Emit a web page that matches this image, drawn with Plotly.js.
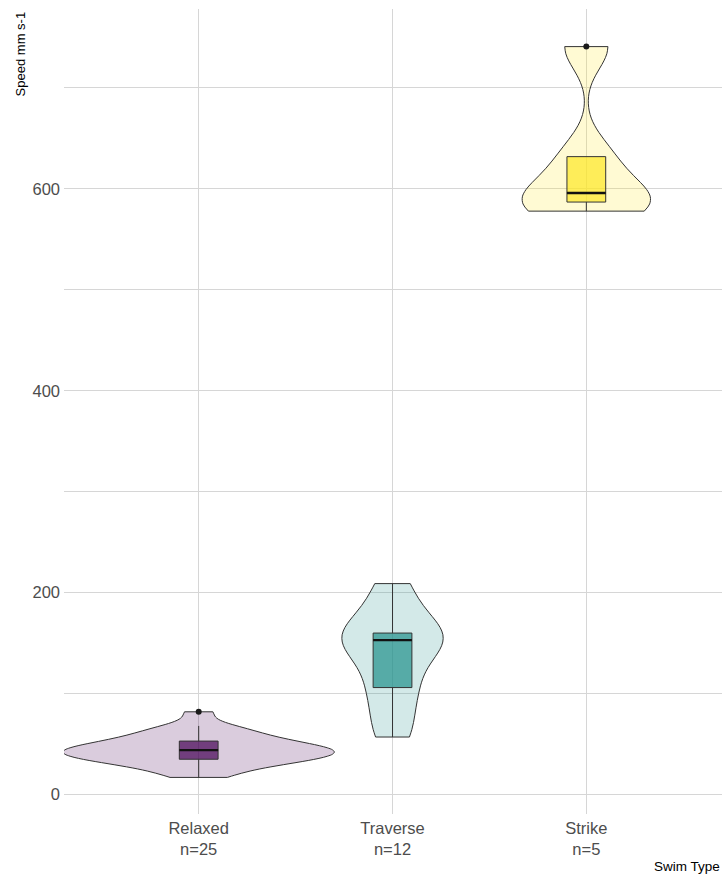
<!DOCTYPE html>
<html>
<head>
<meta charset="utf-8">
<script src="https://cdn.plot.ly/plotly-3.0.1.min.js"></script>
<style>
  html, body { margin: 0; padding: 0; background: #ffffff; }
  #chart { width: 722px; height: 878px; }
</style>
</head>
<body>
<div id="chart"></div>
<script>
// Swimming speed (mm s-1) by swim type
const categories = ['Relaxed', 'Traverse', 'Strike'];

const relaxedSpeeds = [17, 22, 27, 30, 32, 34, 35, 37, 38, 40, 41, 42, 44,
                       45, 46, 47, 49, 51, 53, 55, 58, 61, 65, 68, 82];
const traverseSpeeds = [57, 72, 103, 107, 133, 150, 156, 157, 159, 163, 192, 209];
const strikeSpeeds = [578, 587, 596, 632, 741];

const yTickValues = [0, 200, 400, 600];

// viridis end / middle colours, one per swim type
const groupColors = [[68, 1, 84], [33, 144, 140], [253, 231, 37]];
// violin widths (x units) so that equal areas are kept
const violinWidths = [1.40, 0.52, 0.66];

const series = [relaxedSpeeds, traverseSpeeds, strikeSpeeds];

// quantile, R type 7
function quantile(sorted, p) {
  const h = (sorted.length - 1) * p;
  const lo = Math.floor(h), hi = Math.ceil(h);
  return sorted[lo] + (h - lo) * (sorted[hi] - sorted[lo]);
}
function sd(arr) {
  const m = arr.reduce((a, b) => a + b, 0) / arr.length;
  return Math.sqrt(arr.reduce((a, b) => a + (b - m) * (b - m), 0) / (arr.length - 1));
}
// Silverman's rule as in R's bw.nrd0
function bwNrd0(sorted) {
  const iqr = quantile(sorted, 0.75) - quantile(sorted, 0.25);
  const lo = Math.min(sd(sorted), iqr / 1.34);
  return 0.9 * lo * Math.pow(sorted.length, -0.2);
}
function boxStats(values) {
  const s = values.slice().sort((a, b) => a - b);
  const q1 = quantile(s, 0.25), med = quantile(s, 0.5), q3 = quantile(s, 0.75);
  const iqr = q3 - q1;
  const inside = s.filter(v => v >= q1 - 1.5 * iqr && v <= q3 + 1.5 * iqr);
  const outliers = s.filter(v => v < q1 - 1.5 * iqr || v > q3 + 1.5 * iqr);
  return { s, q1, med, q3, lo: inside[0], hi: inside[inside.length - 1], outliers };
}

const rgba = (c, a) => `rgba(${c[0]},${c[1]},${c[2]},${a})`;
const outline = '#333333';
const traces = [];
const stats = series.map(boxStats);

series.forEach((vals, i) => {
  traces.push({
    type: 'violin',
    x0: i,
    y: vals,
    name: categories[i],
    width: violinWidths[i],
    scalemode: 'width',
    spanmode: 'hard',
    bandwidth: bwNrd0(stats[i].s),
    points: false,
    box: { visible: false },
    meanline: { visible: false },
    fillcolor: rgba(groupColors[i], 0.2),
    line: { color: outline, width: 1 },
    hoverinfo: 'skip'
  });
});

stats.forEach((st, i) => {
  traces.push({
    type: 'box',
    x: [i],
    q1: [st.q1],
    median: [st.med],
    q3: [st.q3],
    lowerfence: [st.lo],
    upperfence: [st.hi],
    width: 0.2,
    whiskerwidth: 0,
    boxpoints: false,
    fillcolor: rgba(groupColors[i], 0.7),
    line: { color: outline, width: 1 },
    hoverinfo: 'skip'
  });
  // thicker median bar
  traces.push({
    type: 'scatter',
    mode: 'lines',
    x: [i - 0.1, i + 0.1],
    y: [st.med, st.med],
    line: { color: '#111111', width: 2.4 },
    hoverinfo: 'skip'
  });
  if (st.outliers.length) {
    traces.push({
      type: 'scatter',
      mode: 'markers',
      x: st.outliers.map(() => i),
      y: st.outliers,
      marker: { color: '#1a1a1a', size: 6 },
      hoverinfo: 'skip'
    });
  }
});

const gridColor = '#d6d6d6';
const tickFont = { family: 'Liberation Sans, Arial, sans-serif', size: 16.5, color: '#4d4d4d' };

const layout = {
  width: 722,
  height: 878,
  margin: { l: 64, r: 0, t: 9, b: 64 },
  paper_bgcolor: '#ffffff',
  plot_bgcolor: '#ffffff',
  showlegend: false,
  violinmode: 'overlay',
  boxmode: 'overlay',
  font: { family: 'Liberation Sans, Arial, sans-serif' },
  xaxis: {
    type: 'linear',
    range: [-0.695, 2.7],
    tickvals: categories.map((_, i) => i),
    ticktext: categories.map((c, i) => c + '<br>n=' + series[i].length),
    tickfont: tickFont,
    ticklabelstandoff: 2,
    showgrid: true,
    gridcolor: gridColor,
    gridwidth: 1,
    zeroline: false,
    showline: false,
    ticks: ''
  },
  yaxis: {
    range: [-19.25, 778.25],
    tickvals: yTickValues,
    tickfont: tickFont,
    ticklabelstandoff: 3,
    showgrid: true,
    gridcolor: gridColor,
    gridwidth: 1,
    minor: { dtick: 100, tick0: 0, showgrid: true, gridcolor: gridColor, gridwidth: 1 },
    zeroline: false,
    showline: false,
    ticks: ''
  },
  annotations: [
    {
      text: 'Speed mm s-1',
      xref: 'paper', yref: 'paper',
      x: -0.0655, y: 1.0,
      xanchor: 'center', yanchor: 'top',
      textangle: -90,
      showarrow: false,
      font: { family: 'Liberation Sans, Arial, sans-serif', size: 13, color: '#000000' }
    },
    {
      text: 'Swim Type',
      xref: 'paper', yref: 'paper',
      x: 1.0, y: -0.0646,
      xanchor: 'right', yanchor: 'middle',
      showarrow: false,
      font: { family: 'Liberation Sans, Arial, sans-serif', size: 13.5, color: '#000000' }
    }
  ]
};

Plotly.newPlot('chart', traces, layout, { displayModeBar: false, staticPlot: true });
</script>
</body>
</html>
